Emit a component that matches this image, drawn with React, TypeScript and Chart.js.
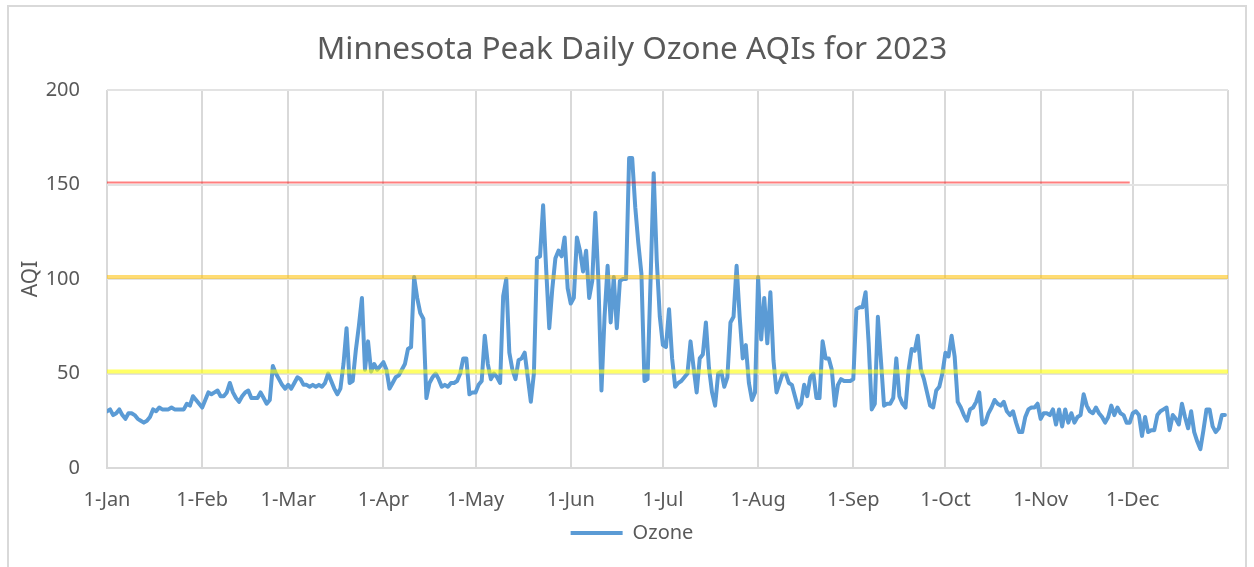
import React, { useEffect, useRef } from "react";
import { Chart, registerables } from "chart.js";

Chart.register(...registerables);

const FONT = "'Noto Sans', sans-serif";
const TEXT_COLOR = "#595959";

const CHART_TITLE = "Minnesota Peak Daily Ozone AQIs for 2023";
const SERIES_LABEL = "Ozone";
const Y_AXIS_TITLE = "AQI";

const monthLabels = ["1-Jan", "1-Feb", "1-Mar", "1-Apr", "1-May", "1-Jun", "1-Jul", "1-Aug", "1-Sep", "1-Oct", "1-Nov", "1-Dec"];
const monthStartDays = [0, 31, 59, 90, 120, 151, 181, 212, 243, 273, 304, 334];
const yearLengthDays = 365;
const yTickValues = [0, 50, 100, 150, 200];

// Daily peak ozone AQI, 2023
const ozoneJan = [30, 31, 28, 29, 31, 28, 26, 29, 29, 28, 26, 25, 24, 25, 27, 31, 30, 32, 31, 31, 31, 32, 31, 31, 31, 31, 34, 33, 38, 36, 34];
const ozoneFeb = [32, 36, 40, 39, 40, 41, 38, 38, 40, 45, 40, 37, 35, 38, 40, 41, 37, 37, 37, 40, 37, 34, 36, 54, 50, 47, 44, 42];
const ozoneMar = [44, 42, 45, 48, 47, 44, 44, 43, 44, 43, 44, 43, 45, 50, 46, 42, 39, 42, 55, 74, 45, 46, 62, 75, 90, 52, 67, 51, 55, 52, 54];
const ozoneApr = [56, 52, 42, 45, 48, 49, 52, 55, 63, 64, 101, 90, 82, 79, 37, 45, 48, 50, 47, 43, 44, 43, 45, 45, 46, 50, 58, 58, 39, 40];
const ozoneMay = [40, 44, 46, 70, 55, 47, 50, 48, 45, 91, 100, 61, 52, 47, 57, 58, 61, 48, 35, 50, 111, 112, 139, 105, 74, 95, 111, 115, 112, 122, 95];
const ozoneJun = [87, 90, 122, 115, 104, 115, 90, 99, 135, 99, 41, 80, 107, 77, 101, 74, 99, 100, 100, 164, 164, 138, 119, 103, 46, 47, 100, 156, 110, 80];
const ozoneJul = [65, 64, 84, 58, 43, 45, 46, 48, 50, 67, 53, 40, 58, 60, 77, 53, 40, 33, 50, 51, 43, 48, 77, 80, 107, 80, 58, 65, 45, 36, 40];
const ozoneAug = [101, 68, 90, 66, 93, 57, 40, 45, 50, 50, 45, 44, 38, 32, 34, 44, 38, 48, 50, 37, 37, 67, 58, 58, 52, 33, 44, 47, 46, 46, 46];
const ozoneSep = [47, 84, 85, 85, 93, 66, 31, 34, 80, 57, 33, 34, 34, 37, 58, 38, 34, 32, 52, 63, 62, 70, 52, 47, 40, 33, 32, 41, 43, 50];
const ozoneOct = [61, 59, 70, 59, 35, 32, 28, 25, 31, 32, 35, 40, 23, 24, 29, 32, 36, 34, 33, 35, 30, 28, 30, 24, 19, 19, 27, 31, 32, 32, 34];
const ozoneNov = [26, 29, 29, 28, 31, 23, 31, 22, 31, 24, 29, 24, 27, 28, 39, 33, 30, 29, 32, 29, 27, 24, 27, 33, 28, 32, 29, 28, 24, 24];
const ozoneDec = [29, 30, 28, 17, 27, 19, 20, 20, 28, 30, 31, 32, 20, 28, 26, 23, 34, 27, 21, 30, 19, 14, 10, 20, 31, 31, 22, 19, 21, 28, 28];

// AQI category threshold lines (level, and the day span they cover)
const moderateLevel = 51;
const moderateSpan = [0, 365];
const usgLevel = 101;
const usgSpan = [0, 365];
const unhealthyLevel = 151;
const unhealthySpan = [0, 333];

export default function App() {
  const canvasRef = useRef<HTMLCanvasElement | null>(null);

  useEffect(() => {
    const canvas = canvasRef.current;
    if (!canvas) return;
    const ozone = [
      ...ozoneJan, ...ozoneFeb, ...ozoneMar, ...ozoneApr, ...ozoneMay, ...ozoneJun,
      ...ozoneJul, ...ozoneAug, ...ozoneSep, ...ozoneOct, ...ozoneNov, ...ozoneDec,
    ];
    const ozonePoints = ozone.map((v, i) => ({ x: i, y: v }));
    const levelPoints = (level: number, span: number[]) => span.map((d) => ({ x: d, y: level }));

    const chart = new Chart(canvas, {
      type: "line",
      data: {
        datasets: [
          {
            label: "Unhealthy",
            data: levelPoints(unhealthyLevel, unhealthySpan),
            borderColor: "rgba(255,0,0,0.5)",
            borderWidth: 2,
            pointRadius: 0,
            yAxisID: "y",
          },
          {
            label: "USG",
            data: levelPoints(usgLevel, usgSpan),
            borderColor: "rgba(255,192,0,0.55)",
            borderWidth: 4,
            pointRadius: 0,
            yAxisID: "y",
          },
          {
            label: "Moderate",
            data: levelPoints(moderateLevel, moderateSpan),
            borderColor: "rgba(255,255,0,0.6)",
            borderWidth: 4,
            pointRadius: 0,
            yAxisID: "y",
          },
          {
            label: SERIES_LABEL,
            data: ozonePoints,
            borderColor: "#5B9BD5",
            backgroundColor: "#5B9BD5",
            borderWidth: 4,
            pointRadius: 0,
            tension: 0,
            borderJoinStyle: "round",
            borderCapStyle: "round",
            yAxisID: "y",
          },
        ],
      },
      options: {
        responsive: false,
        animation: false,
        devicePixelRatio: 1,
        layout: { padding: { left: 10, right: 0, top: 0, bottom: 14 } },
        plugins: {
          title: {
            display: true,
            text: CHART_TITLE,
            color: TEXT_COLOR,
            font: { family: FONT, size: 31.5, weight: "normal" },
            padding: { top: 31, bottom: 21.2 },
          },
          legend: {
            display: true,
            position: "bottom",
            labels: {
              filter: (item: any) => item.text === SERIES_LABEL,
              usePointStyle: true,
              pointStyle: "line",
              pointStyleWidth: 52,
              color: TEXT_COLOR,
              font: { family: FONT, size: 20 },
              padding: 10,
            },
          },
          tooltip: { enabled: false },
        },
        scales: {
          x: {
            type: "linear",
            min: 0,
            max: yearLengthDays,
            afterBuildTicks: (s: any) => {
              s.ticks = [...monthStartDays, yearLengthDays].map((v) => ({ value: v }));
            },
            afterFit: (s: any) => {
              s.height = 45;
            },
            ticks: {
              autoSkip: false,
              maxRotation: 0,
              padding: 20,
              color: TEXT_COLOR,
              font: { family: FONT, size: 20 },
              callback: (v: any) => {
                const i = monthStartDays.indexOf(Number(v));
                return i >= 0 ? monthLabels[i] : "";
              },
            },
            grid: { color: "#D9D9D9", lineWidth: 2, drawTicks: false },
            border: { display: true, color: "#D9D9D9", width: 2 },
          },
          y: {
            type: "linear",
            position: "left",
            min: 0,
            max: 200,
            afterBuildTicks: (s: any) => {
              s.ticks = yTickValues.map((v) => ({ value: v }));
            },
            afterFit: (s: any) => {
              s.width = 97;
            },
            ticks: {
              padding: 27,
              color: TEXT_COLOR,
              font: { family: FONT, size: 20 },
            },
            grid: { color: "#E3E3E3", lineWidth: 2, drawTicks: false },
            border: { display: false },
            title: {
              display: true,
              text: Y_AXIS_TITLE,
              color: TEXT_COLOR,
              font: { family: FONT, size: 21 },
              padding: { top: 8, bottom: 0 },
            },
          },
          yRight: {
            type: "linear",
            position: "right",
            display: true,
            grid: { display: false },
            ticks: { display: false },
            border: { display: false },
            afterFit: (s: any) => {
              s.width = 26;
            },
          },
        },
      },
    } as any);

    return () => chart.destroy();
  }, []);

  return (
    <div style={{ position: "absolute", left: 0, top: 0, width: 1254, height: 567, background: "#ffffff", overflow: "hidden" }}>
      <div
        style={{
          position: "absolute",
          left: 7,
          top: 5,
          width: 1240,
          height: 600,
          border: "2px solid #D9D9D9",
          boxSizing: "border-box",
        }}
      />
      <canvas ref={canvasRef} width={1254} height={567} style={{ position: "absolute", left: 0, top: 0 }} />
    </div>
  );
}
